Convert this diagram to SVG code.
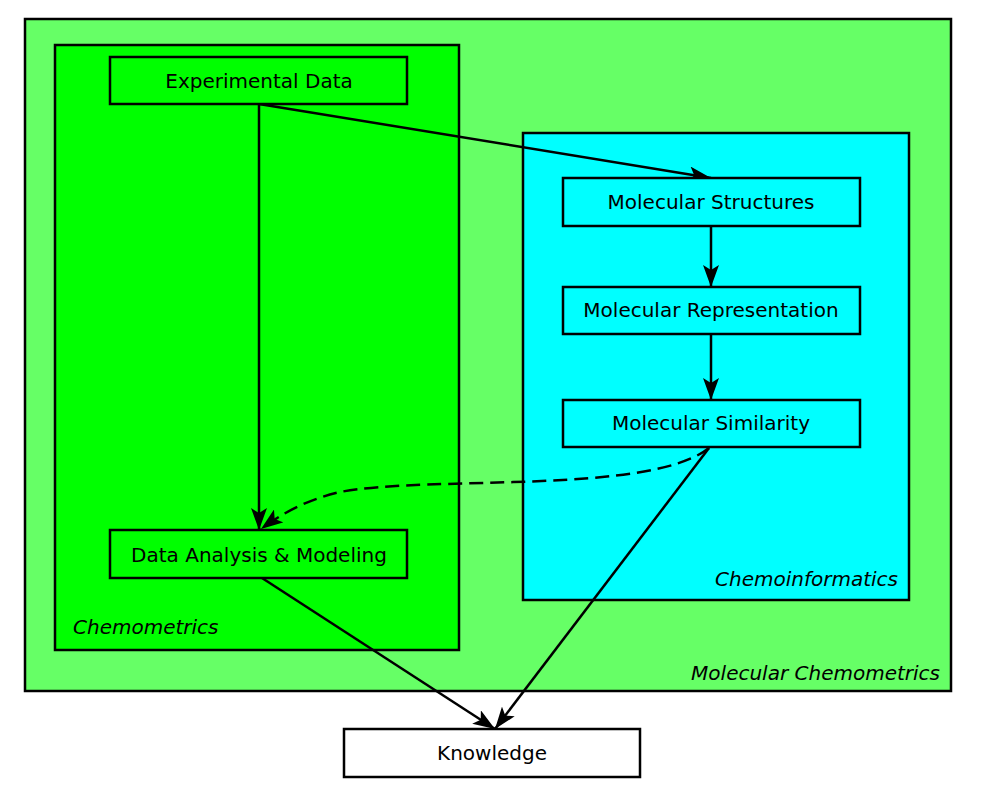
<svg xmlns="http://www.w3.org/2000/svg" width="983" height="806" viewBox="0 0 983 806">
<style>
.box{stroke:#000;stroke-width:2.5}
.t{font-family:"DejaVu Sans",sans-serif;font-size:20px;fill:#000;text-anchor:middle}
.ct{font-family:"DejaVu Sans",sans-serif;font-size:20px;font-style:italic;fill:#000}
.e{fill:none;stroke:#000;stroke-width:2.5}
</style>
<defs>
<marker id="ah" viewBox="0 0 22 16" refX="22" refY="8" markerWidth="22" markerHeight="16" markerUnits="userSpaceOnUse" orient="auto">
<path d="M0,0 L22,8 L0,16 L5,8 Z" fill="#000"/>
</marker>
</defs>
<rect width="983" height="806" fill="#fff"/>
<g id="cluster-molecular-chemometrics">
<rect class="box" x="25" y="19" width="926" height="672" fill="#66ff66"/>
<text class="ct" x="940" y="680" text-anchor="end">Molecular Chemometrics</text>
</g>
<g id="cluster-chemometrics">
<rect class="box" x="55" y="45" width="404" height="605" fill="#00ff00"/>
<text class="ct" x="73" y="634">Chemometrics</text>
</g>
<g id="cluster-chemoinformatics">
<rect class="box" x="523" y="133" width="386" height="467" fill="#00ffff"/>
<text class="ct" x="898" y="586" text-anchor="end">Chemoinformatics</text>
</g>
<g id="connectors">
<path class="e" d="M259,104 L259,530" marker-end="url(#ah)"/>
<path class="e" d="M259,104 L711,178" marker-end="url(#ah)"/>
<path class="e" d="M711,226 L711,287" marker-end="url(#ah)"/>
<path class="e" d="M711,334 L711,400" marker-end="url(#ah)"/>
<path class="e" d="M709,448 C650,495 430,475 340,492 C305,500 280,515 261,529" stroke-dasharray="14,7" marker-end="url(#ah)"/>
<path class="e" d="M262,578 L495,729" marker-end="url(#ah)"/>
<path class="e" d="M709,448 L495,729" marker-end="url(#ah)"/>
</g>
<g id="node-experimental-data">
<rect class="box" x="110" y="57" width="297" height="47" fill="#00ff00"/>
<text class="t" x="259" y="88">Experimental Data</text>
</g>
<g id="node-data-analysis">
<rect class="box" x="110" y="530" width="297" height="48" fill="#00ff00"/>
<text class="t" x="259" y="562">Data Analysis &amp; Modeling</text>
</g>
<g id="node-molecular-structures">
<rect class="box" x="563" y="178" width="297" height="48" fill="#00ffff"/>
<text class="t" x="711" y="209">Molecular Structures</text>
</g>
<g id="node-molecular-representation">
<rect class="box" x="563" y="287" width="297" height="47" fill="#00ffff"/>
<text class="t" x="711" y="317">Molecular Representation</text>
</g>
<g id="node-molecular-similarity">
<rect class="box" x="563" y="400" width="297" height="47" fill="#00ffff"/>
<text class="t" x="711" y="430">Molecular Similarity</text>
</g>
<g id="node-knowledge">
<rect class="box" x="344" y="729" width="296" height="48" fill="#fff"/>
<text class="t" x="492" y="760">Knowledge</text>
</g>
</svg>
